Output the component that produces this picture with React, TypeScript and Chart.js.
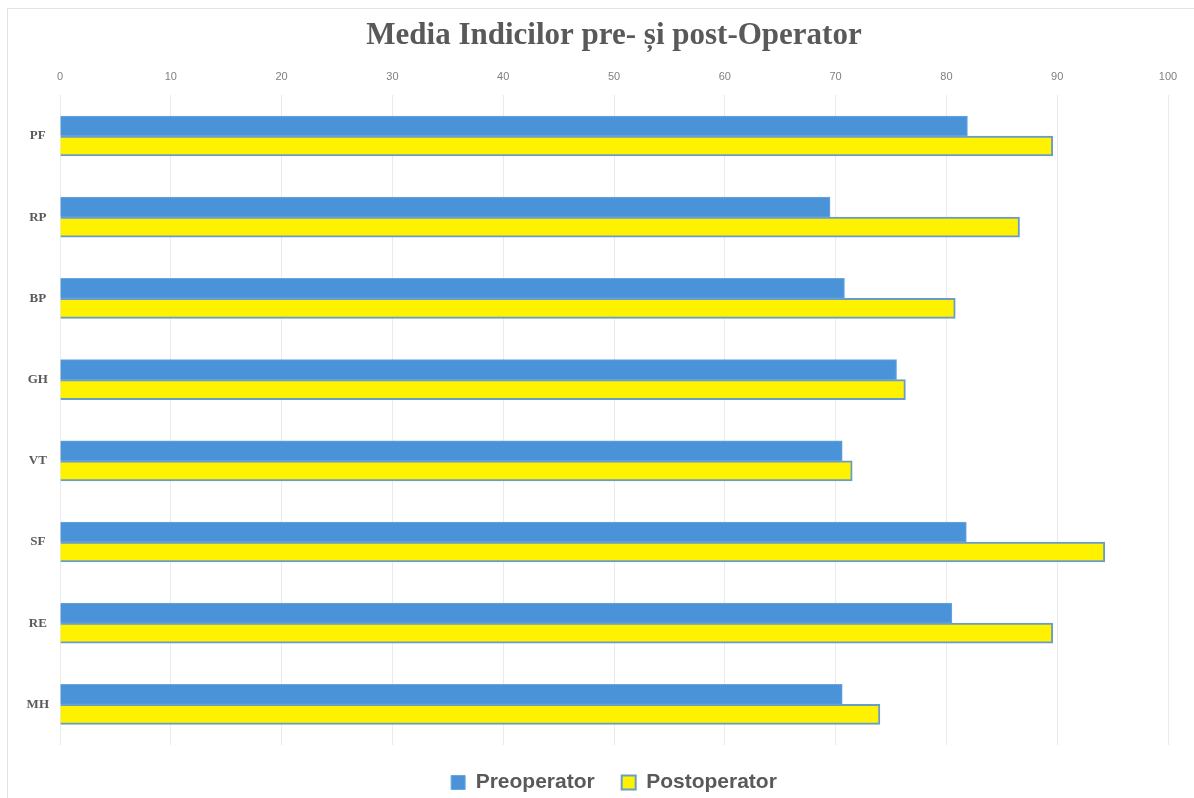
import React, { useEffect, useRef } from "react";
import { Chart, registerables } from "chart.js";

Chart.register(...registerables);

const categories = ["PF", "RP", "BP", "GH", "VT", "SF", "RE", "MH"];
const preoperator = [81.9, 69.5, 70.8, 75.5, 70.6, 81.8, 80.5, 70.6];
const postoperator = [89.6, 86.6, 80.8, 76.3, 71.5, 94.3, 89.6, 74.0];
const seriesNames = ["Preoperator", "Postoperator"];
const titleText = "Media Indicilor pre- și post-Operator";

const BLUE = "#4b93d8";
const YELLOW = "#fff200";

const frame = {
  id: "frame",
  beforeDraw(chart: any) {
    const ctx = chart.ctx;
    ctx.save();
    ctx.fillStyle = "#ffffff";
    ctx.fillRect(0, 0, chart.width, chart.height);
    ctx.strokeStyle = "#e3e3e3";
    ctx.lineWidth = 1;
    ctx.strokeRect(7.5, 8.5, chart.width + 10, chart.height + 10);
    ctx.restore();
  },
};

export default function App() {
  const ref = useRef<HTMLCanvasElement | null>(null);
  useEffect(() => {
    document.body.style.margin = "0";
    const chart = new Chart(ref.current as HTMLCanvasElement, {
      type: "bar",
      data: {
        labels: categories,
        datasets: [
          {
            label: seriesNames[0],
            data: preoperator,
            backgroundColor: BLUE,
            borderColor: "#6aa6de",
            borderWidth: 1,
            barThickness: 20,
          },
          {
            label: seriesNames[1],
            data: postoperator,
            backgroundColor: YELLOW,
            borderColor: "#6a9cc9",
            borderWidth: 2,
            barThickness: 20,
          },
        ],
      },
      options: {
        indexAxis: "y",
        animation: false,
        responsive: false,
        maintainAspectRatio: false,
        layout: { padding: { left: 8, right: 26, top: 0, bottom: -5 } },
        plugins: {
          title: {
            display: true,
            fullSize: false,
            text: titleText,
            color: "#595959",
            font: { family: "'Liberation Serif', 'Times New Roman', serif", size: 31, weight: "bold" },
            padding: { top: 17, bottom: 4 },
          },
          legend: {
            position: "bottom",
            fullSize: false,
            labels: {
              color: "#595959",
              font: { family: "'Liberation Sans', Arial, sans-serif", size: 21, weight: "bold" },
              boxWidth: 14,
              boxHeight: 14,
              padding: 27,
            },
          },
          tooltip: { enabled: false },
        },
        scales: {
          x: {
            position: "top",
            min: 0,
            max: 100,
            ticks: {
              stepSize: 10,
              color: "#7f7f7f",
              padding: 12,
              font: { family: "'Liberation Sans', Arial, sans-serif", size: 11 },
            },
            grid: { color: "#ebebeb", drawTicks: false, lineWidth: 1 },
            border: { display: false },
          },
          y: {
            ticks: {
              color: "#595959",
              crossAlign: "center",
              font: { family: "'Liberation Serif', 'Times New Roman', serif", size: 13, weight: "bold" },
            },
            grid: { display: false },
            border: { display: false },
            afterFit(scale: any) {
              scale.width = 52;
            },
          },
        },
      },
      plugins: [frame],
    } as any);
    return () => chart.destroy();
  }, []);
  return (
    <div style={{ width: 1194, height: 798 }}>
      <canvas ref={ref} width={1194} height={798} style={{ display: "block" }} />
    </div>
  );
}
